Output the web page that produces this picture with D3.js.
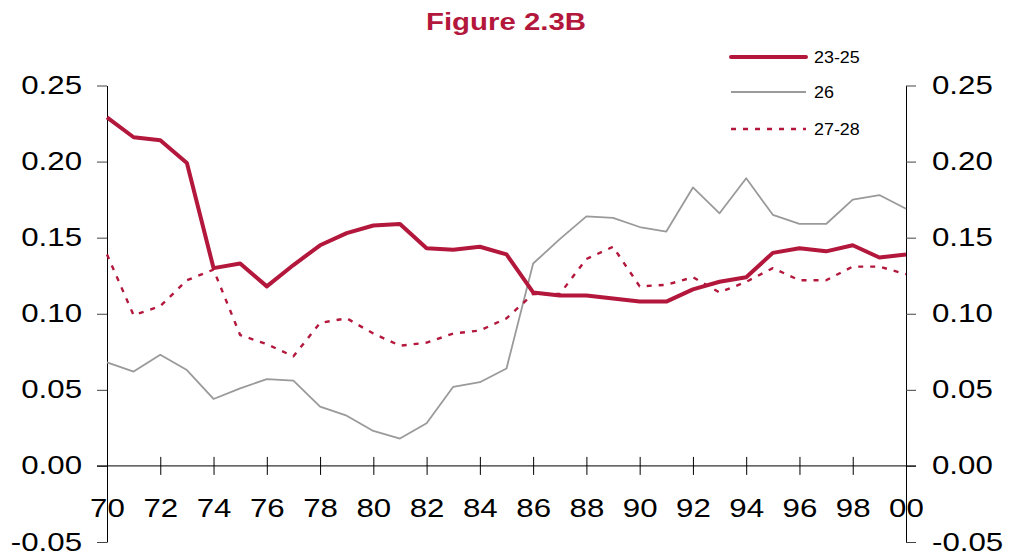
<!DOCTYPE html>
<html>
<head>
<meta charset="utf-8">
<script src="https://cdn.jsdelivr.net/npm/d3@7"></script>
<style>
  body { margin: 0; background: #fff; }
  text { font-family: "Liberation Sans", Arial, sans-serif; }
</style>
</head>
<body>
<div id="chart"></div>
<script>
// data
const years = [1970, 1971, 1972, 1973, 1974, 1975, 1976, 1977, 1978, 1979,
               1980, 1981, 1982, 1983, 1984, 1985, 1986, 1987, 1988, 1989,
               1990, 1991, 1992, 1993, 1994, 1995, 1996, 1997, 1998, 1999, 2000];

const age2325 = [0.229, 0.216, 0.214, 0.199, 0.130, 0.133, 0.118, 0.132, 0.145, 0.153,
                 0.158, 0.159, 0.143, 0.142, 0.144, 0.139, 0.114, 0.112, 0.112, 0.110,
                 0.108, 0.108, 0.116, 0.121, 0.124, 0.140, 0.143, 0.141, 0.145, 0.137, 0.139];

const age26 = [0.068, 0.062, 0.073, 0.063, 0.044, 0.051, 0.057, 0.056, 0.039, 0.033,
               0.023, 0.018, 0.028, 0.052, 0.055, 0.064, 0.133, 0.149, 0.164, 0.163,
               0.157, 0.154, 0.183, 0.166, 0.189, 0.165, 0.159, 0.159, 0.175, 0.178, 0.169];

const age2728 = [0.139, 0.099, 0.105, 0.122, 0.129, 0.086, 0.080, 0.072, 0.094, 0.097,
                 0.087, 0.079, 0.081, 0.087, 0.089, 0.097, 0.113, 0.113, 0.136, 0.144,
                 0.118, 0.119, 0.124, 0.114, 0.121, 0.130, 0.122, 0.122, 0.131, 0.131, 0.126];

const seriesNames = ["23-25", "26", "27-28"];
const yTicks = [-0.05, 0.00, 0.05, 0.10, 0.15, 0.20, 0.25];
const xTicks = [1970, 1972, 1974, 1976, 1978, 1980, 1982, 1984, 1986, 1988,
                1990, 1992, 1994, 1996, 1998, 2000];

const config = {
  width: 1013,
  height: 558,
  left: 107,
  right: 906,
  top: 85.5,
  bottom: 542,
  crimson: "#b3173c",
  grey: "#9a9a9a",
  stretch: 1.25
};

const svg = d3.select("#chart").append("svg")
    .attr("width", config.width)
    .attr("height", config.height);

const x = d3.scaleLinear().domain([1970, 2000]).range([config.left, config.right]);
const y = d3.scaleLinear().domain([-0.05, 0.25]).range([config.bottom, config.top]);

// the original type is horizontally widened, so stretch text around its anchor
function widen(sel, sx) {
  sel.each(function() {
    const t = d3.select(this);
    const x0 = +t.attr("x") || 0;
    t.attr("x", x0 / sx).attr("transform", `scale(${sx},1)`);
  });
}

function styleAxis(g) {
  g.select(".domain").attr("stroke", "#000").attr("stroke-width", 1);
  g.selectAll(".tick line").attr("stroke", "#444");
  g.selectAll("text").attr("font-size", 25).attr("fill", "#000");
}

// left axis
const yLeft = svg.append("g")
    .attr("transform", `translate(${config.left},0)`)
    .call(d3.axisLeft(y).tickValues(yTicks).tickSize(10).tickSizeOuter(0)
      .tickPadding(15).tickFormat(d => d.toFixed(2)));
styleAxis(yLeft);
widen(yLeft.selectAll("text"), config.stretch);

// right axis
const yRight = svg.append("g")
    .attr("transform", `translate(${config.right},0)`)
    .call(d3.axisRight(y).tickValues(yTicks).tickSize(10).tickSizeOuter(0)
      .tickPadding(16).tickFormat(d => d.toFixed(2)));
styleAxis(yRight);
widen(yRight.selectAll("text"), config.stretch);

// x axis sits on the zero line, ticks cross it
const xAxisG = svg.append("g")
    .attr("transform", `translate(0,${y(0)})`)
    .call(d3.axisBottom(x).tickValues(xTicks).tickSize(9).tickSizeOuter(0)
      .tickFormat(d => String(d % 100).padStart(2, "0")));
styleAxis(xAxisG);
xAxisG.select(".domain").remove();
xAxisG.selectAll(".tick line").attr("y1", -9).attr("stroke", "#000");
xAxisG.selectAll("text").attr("y", 42).attr("dy", "0.35em");
widen(xAxisG.selectAll("text"), config.stretch);
xAxisG.append("line")
    .attr("x1", x(1970) - 10).attr("x2", x(2000) + 10)
    .attr("stroke", "#000").attr("stroke-width", 1);

// lines
const series = [
  { name: seriesNames[0], values: age2325, color: config.crimson, width: 4, dash: null },
  { name: seriesNames[1], values: age26, color: config.grey, width: 1.8, dash: null },
  { name: seriesNames[2], values: age2728, color: config.crimson, width: 2.4, dash: "5,7" }
];

const line = d3.line()
    .x((d, i) => x(years[i]))
    .y(d => y(d));

// draw back to front: grey, dotted, then thick crimson
[series[1], series[2], series[0]].forEach(s => {
  svg.append("path")
      .datum(s.values)
      .attr("fill", "none")
      .attr("stroke", s.color)
      .attr("stroke-width", s.width)
      .attr("stroke-linejoin", "round")
      .attr("stroke-dasharray", s.dash)
      .attr("d", line);
});

// legend
const legend = svg.append("g");
const legendY = [57, 92, 129];
series.forEach((s, i) => {
  const item = legend.append("g").attr("transform", `translate(0,${legendY[i]})`);
  item.append("line")
      .attr("x1", 731).attr("x2", 806)
      .attr("stroke", s.color)
      .attr("stroke-width", s.width)
      .attr("stroke-linecap", i === 0 ? "round" : "butt")
      .attr("stroke-dasharray", s.dash);
  const t = item.append("text")
      .attr("x", 814)
      .attr("dy", "0.35em")
      .attr("font-size", 16)
      .attr("fill", "#000")
      .text(s.name);
  widen(t, 1.12);
});

// title
const title = svg.append("text")
    .attr("x", 506)
    .attr("y", 30)
    .attr("text-anchor", "middle")
    .attr("font-size", 23.5)
    .attr("font-weight", "bold")
    .attr("fill", config.crimson)
    .text("Figure 2.3B");
widen(title, config.stretch);
</script>
</body>
</html>
